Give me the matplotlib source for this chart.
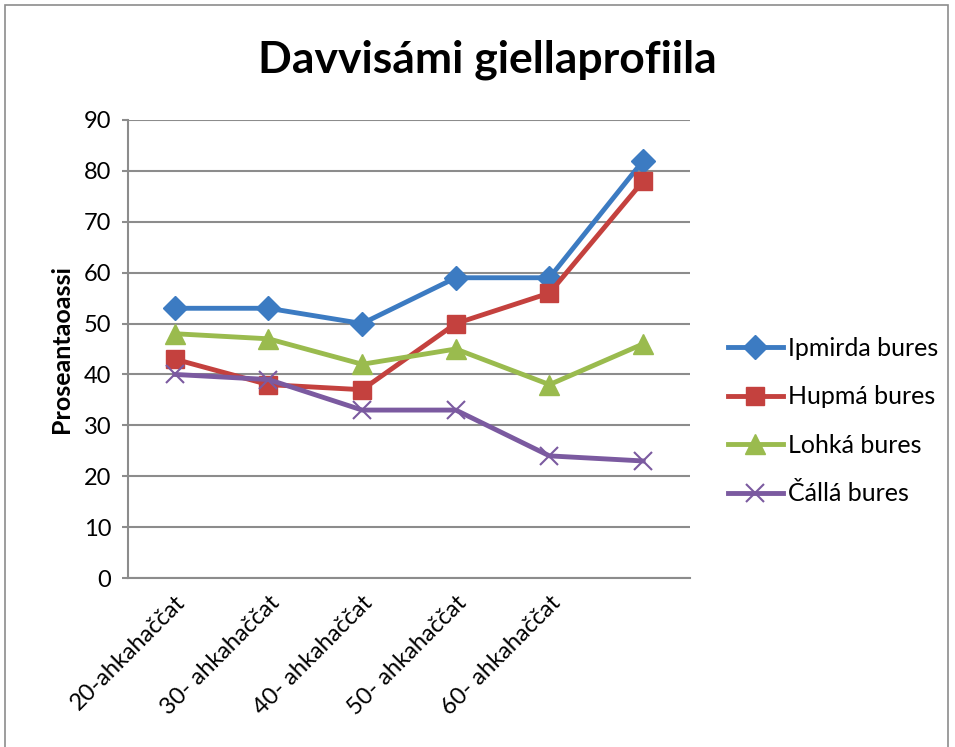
import numpy as np
import matplotlib.pyplot as plt
import matplotlib as mpl
from matplotlib.patches import Rectangle

mpl.rcParams['font.family'] = ['Lato', 'DejaVu Sans']

categories = ['20-ahkahaččat', '30- ahkahaččat', '40- ahkahaččat',
              '50- ahkahaččat', '60- ahkahaččat', '']
ipmirda = [53, 53, 50, 59, 59, 82]
hupma = [43, 38, 37, 50, 56, 78]
lohka = [48, 47, 42, 45, 38, 46]
calla = [40, 39, 33, 33, 24, 23]

series = [
    ('Ipmirda bures', ipmirda, '#3C7BC2', 'D', 12),
    ('Hupmá bures', hupma, '#C4413E', 's', 13),
    ('Lohká bures', lohka, '#9ABB4E', '^', 14),
    ('Čállá bures', calla, '#7B5AA0', 'x', 13),
]

fig = plt.figure(figsize=(9.55, 7.47), dpi=100)
ax = fig.add_axes([0.134, 0.2262, 0.5885, 0.6132])

x = np.arange(len(categories))
for name, vals, col, mk, ms in series:
    if mk == 'x':
        ax.plot(x, vals, color=col, lw=3.5, marker=mk, ms=ms, mew=1.5, label=name)
    else:
        ax.plot(x, vals, color=col, lw=3.5, marker=mk, ms=ms, label=name)

ax.set_xlim(-0.5, len(categories) - 0.5)
ax.set_ylim(0, 90)
ax.set_yticks(range(0, 91, 10))
ax.set_xticks(x)
ax.set_xticklabels(categories, rotation=45, ha='right', rotation_mode='anchor')
ax.tick_params(axis='x', labelsize=17, length=0, pad=10)
ax.tick_params(axis='y', labelsize=17, length=4, width=1.5, color='#8c8c8c', pad=8)
ax.grid(axis='y', color='#8c8c8c', lw=1.5)
ax.set_axisbelow(True)
for s in ['top', 'right']:
    ax.spines[s].set_visible(False)
ax.spines['left'].set_color('#8c8c8c')
ax.spines['left'].set_linewidth(1.5)
ax.spines['bottom'].set_color('#8c8c8c')
ax.spines['bottom'].set_linewidth(1.5)

ax.set_ylabel('Proseantaoassi', fontsize=18, fontweight='bold', labelpad=8)
fig.text(0.51, 0.92, 'Davvisámi giellaprofiila', fontsize=32, fontweight='bold',
         ha='center', va='center')

fig.legend(loc='center left', bbox_to_anchor=(0.762, 0.4364), frameon=False,
           fontsize=18, handlelength=2.2, handletextpad=0.2, labelspacing=1.02,
           borderpad=0, borderaxespad=0)

fig.patches.append(Rectangle((5 / 955, -0.1), 943 / 955, 1.1 - 5 / 747,
                             transform=fig.transFigure, fill=False,
                             edgecolor='#8c8c8c', lw=1.2))

plt.savefig('out.png', dpi=100)
